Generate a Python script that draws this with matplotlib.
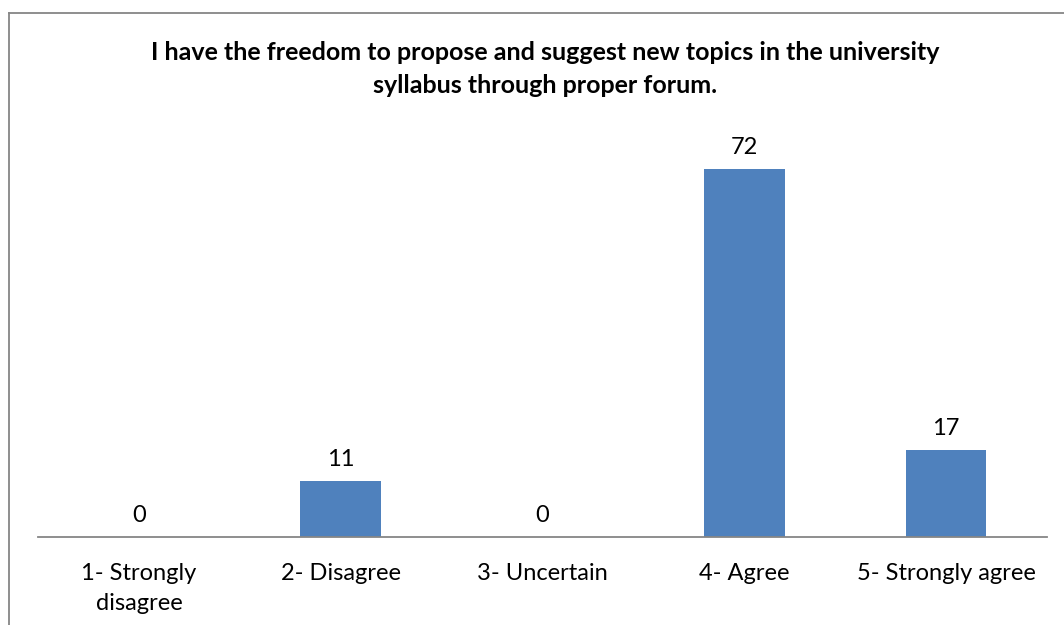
import matplotlib
matplotlib.use("Agg")
import matplotlib.pyplot as plt
from matplotlib.lines import Line2D

plt.rcParams['font.family'] = ['Lato', 'DejaVu Sans']

# survey responses
categories = ["1- Strongly\ndisagree", "2- Disagree", "3- Uncertain", "4- Agree", "5- Strongly agree"]
counts = [0, 11, 0, 72, 17]
title = ("I have the freedom to propose and suggest new topics in the university\n"
         "syllabus through proper forum.")

W, H = 1064, 625
fig = plt.figure(figsize=(W / 100, H / 100), dpi=100)

# chart border (cut off at right/bottom like the screenshot)
fig.add_artist(Line2D([9 / W, 9 / W], [0, 1 - 13 / H], color='#868686', lw=1.3))
fig.add_artist(Line2D([9 / W, 1], [1 - 13 / H, 1 - 13 / H], color='#868686', lw=1.3))

ax = fig.add_axes([38 / W, 88 / H, 1009 / W, 409 / H])
x = list(range(len(categories)))
bars = ax.bar(x, counts, width=0.4, color='#4F81BD')

for xi, v in zip(x, counts):
    ax.annotate(str(v), (xi, v), xytext=(0, 8), textcoords='offset points',
                ha='center', va='bottom', fontsize=17)

ax.set_xlim(-0.5, len(categories) - 0.5)
ax.set_ylim(0, 80)
ax.set_xticks(x)
ax.set_xticklabels(categories, fontsize=17, linespacing=1.5)
ax.tick_params(axis='x', length=0, pad=19)
ax.set_yticks([])
for s in ['top', 'right', 'left']:
    ax.spines[s].set_visible(False)
ax.spines['bottom'].set_color('#868686')
ax.spines['bottom'].set_linewidth(1.3)

fig.text(545 / W, 1 - 69 / H, title, ha='center', va='center',
         fontsize=18, fontweight='bold', linespacing=1.5)

fig.savefig("out.png", dpi=100)
